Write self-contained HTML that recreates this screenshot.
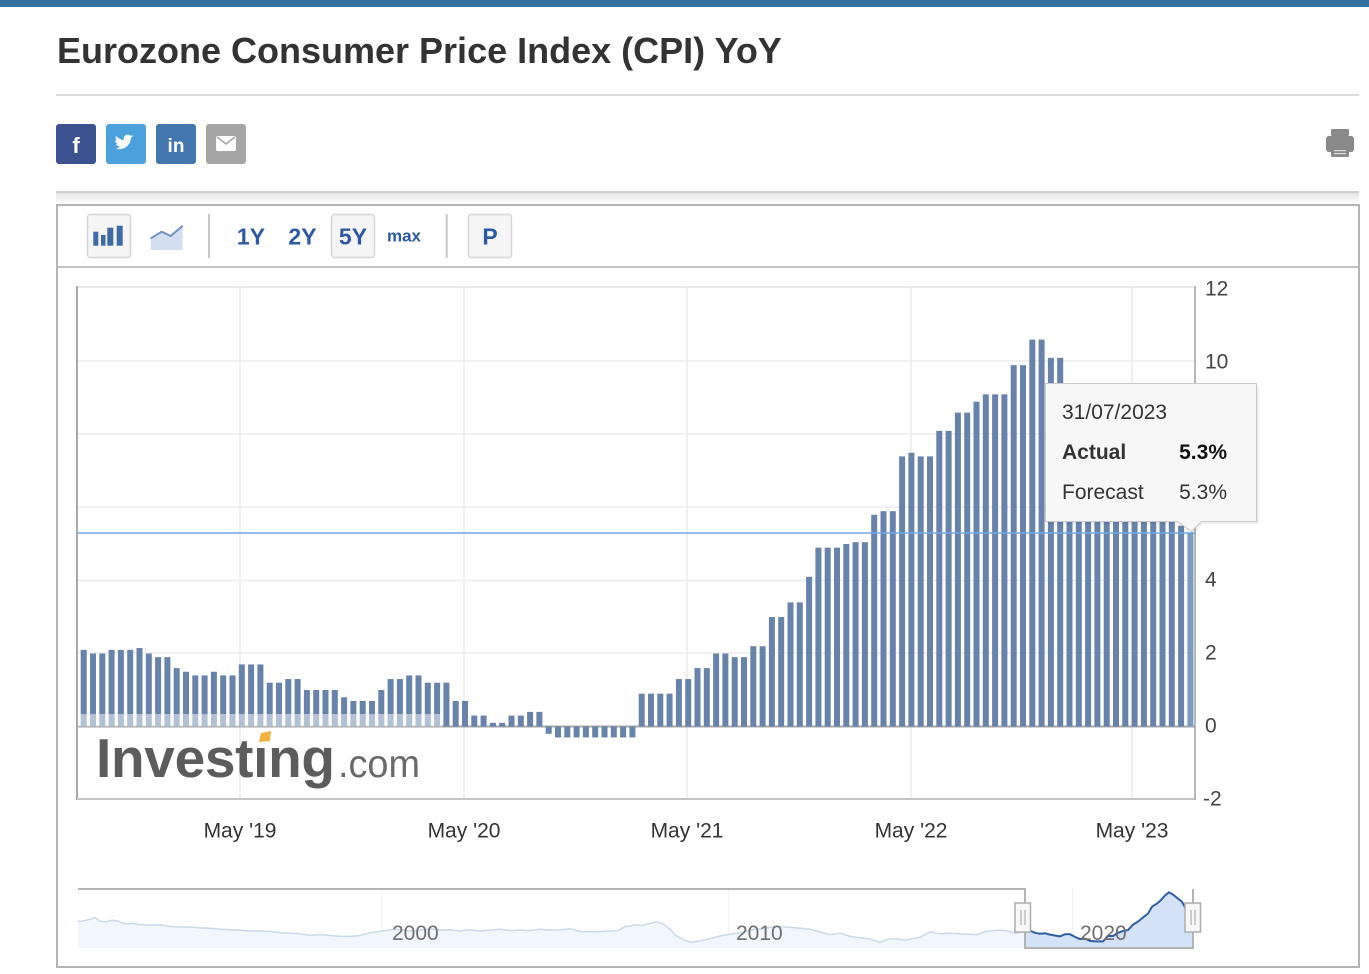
<!DOCTYPE html>
<html>
<head>
<meta charset="utf-8">
<style>
  html,body{margin:0;padding:0;background:#fff;}
  body{width:1369px;height:974px;overflow:hidden;position:relative;}
  svg{position:absolute;left:0;top:0;display:block;}
  text{font-family:"Liberation Sans",Arial,sans-serif;}
</style>
</head>
<body>
<svg width="1369" height="974" viewBox="0 0 1369 974" xmlns="http://www.w3.org/2000/svg">
  <defs>
    <linearGradient id="sh" x1="0" y1="0" x2="0" y2="1">
      <stop offset="0" stop-color="#e4e4e4"/>
      <stop offset="1" stop-color="#ffffff"/>
    </linearGradient>
  </defs>

  <rect x="0" y="0" width="1369" height="7" fill="#34739f"/>

  <text x="57" y="63" font-size="36" font-weight="bold" fill="#333">Eurozone Consumer Price Index (CPI) YoY</text>
  <rect x="56" y="94" width="1303" height="2" fill="#dadada"/>

  <rect x="56" y="124" width="40" height="40" rx="3" fill="#3b5190"/>
  <text x="76" y="153" font-size="22" font-weight="bold" fill="#fff" text-anchor="middle">f</text>
  <rect x="106" y="124" width="40" height="40" rx="3" fill="#4ca0db"/>
  <path d="M117,149 c6,1 11,-2 13,-7 l1,-4 c1,-1 2,-2 2,-3 l-2,1 c-1,-1 -3,-2 -5,-1 c-2,1 -3,3 -2,5 c-3,0 -6,-2 -8,-4 c-1,2 0,4 1,5 c-1,0 -1,0 -2,-1 c0,2 1,3 3,4 c-1,0 -1,0 -2,0 c1,2 2,2 4,3 c-2,1 -3,2 -6,2z" fill="#fff"/>
  <rect x="156" y="124" width="40" height="40" rx="3" fill="#4477ad"/>
  <text x="176" y="152" font-size="19" font-weight="bold" fill="#fff" text-anchor="middle">in</text>
  <rect x="206" y="124" width="40" height="40" rx="3" fill="#a6a6a6"/>
  <rect x="216" y="136" width="20" height="15" rx="2" fill="#fff"/>
  <path d="M217,137 L226,144 L235,137" stroke="#a6a6a6" stroke-width="1.5" fill="none"/>

  <g fill="#8a8a8a">
    <rect x="1331" y="129" width="18" height="7" rx="1"/>
    <rect x="1326" y="136" width="28" height="16" rx="3"/>
    <rect x="1331" y="147" width="18" height="10" rx="1"/>
  </g>
  <rect x="1334" y="150" width="12" height="1.2" fill="#ddd"/>
  <rect x="1334" y="153" width="12" height="1.2" fill="#ddd"/>

  <rect x="56" y="193" width="1303" height="11" fill="url(#sh)"/>
  <rect x="56" y="191" width="1303" height="2" fill="#cfcfcf"/>

  <rect x="57" y="205" width="1302" height="762" fill="#fff" stroke="#b3b3b3" stroke-width="2"/>
  <rect x="58" y="266" width="1300" height="2" fill="#c2c2c2"/>

  <rect x="87.5" y="214.5" width="43" height="43" rx="3" fill="#f5f5f5" stroke="#d5d5d5" stroke-width="1.5"/>
  <g fill="#3e6aa8">
    <rect x="93.3" y="231.7" width="5" height="14"/>
    <rect x="101" y="235" width="4.5" height="10.7"/>
    <rect x="107.3" y="227.7" width="6" height="18"/>
    <rect x="116.7" y="225.7" width="6" height="20"/>
  </g>
  <path d="M150.7,238.3 L161.7,231.7 L170.7,236 L182.7,225.7 L182.7,250 L150.7,250 Z" fill="#d3deee"/>
  <path d="M150.7,238.3 L161.7,231.7 L170.7,236 L182.7,225.7" fill="none" stroke="#6d90c2" stroke-width="2"/>
  <rect x="208" y="214" width="2" height="44" fill="#c8c8c8"/>
  <text x="251" y="244.3" font-size="23" font-weight="bold" fill="#2b5aa2" text-anchor="middle">1Y</text>
  <text x="302.5" y="244.3" font-size="23" font-weight="bold" fill="#2b5aa2" text-anchor="middle">2Y</text>
  <rect x="331.5" y="214.5" width="43" height="43" rx="3" fill="#f5f5f5" stroke="#d5d5d5" stroke-width="1.5"/>
  <text x="353" y="244.3" font-size="23" font-weight="bold" fill="#2b5aa2" text-anchor="middle">5Y</text>
  <text x="404" y="241.7" font-size="17" font-weight="bold" fill="#2b5aa2" text-anchor="middle">max</text>
  <rect x="445.7" y="214" width="2" height="44" fill="#c8c8c8"/>
  <rect x="468.5" y="214.5" width="43" height="43" rx="3" fill="#f5f5f5" stroke="#d5d5d5" stroke-width="1.5"/>
  <text x="490" y="244.3" font-size="23" font-weight="bold" fill="#2b5aa2" text-anchor="middle">P</text>

  <g stroke="#ebebeb" stroke-width="1.5">
    <line x1="240" y1="287" x2="240" y2="799"/>
    <line x1="464" y1="287" x2="464" y2="799"/>
    <line x1="687" y1="287" x2="687" y2="799"/>
    <line x1="911" y1="287" x2="911" y2="799"/>
    <line x1="1132" y1="287" x2="1132" y2="799"/>
    <line x1="77" y1="361" x2="1195" y2="361"/>
    <line x1="77" y1="434" x2="1195" y2="434"/>
    <line x1="77" y1="507" x2="1195" y2="507"/>
    <line x1="77" y1="580.5" x2="1195" y2="580.5"/>
    <line x1="77" y1="653" x2="1195" y2="653"/>
  </g>
  <line x1="77" y1="287" x2="1195" y2="287" stroke="#e2e2e2" stroke-width="1.5"/>
  <line x1="77" y1="726.5" x2="1195" y2="726.5" stroke="#a6a6a6" stroke-width="2"/>

  <g transform="translate(0 726.5) scale(1 -36.5)" fill="#6783ab">
    <rect x="80.7" y="0" width="6" height="2.1"/>
    <rect x="90" y="0" width="6" height="2"/>
    <rect x="99.3" y="0" width="6" height="2"/>
    <rect x="108.6" y="0" width="6" height="2.1"/>
    <rect x="117.9" y="0" width="6" height="2.1"/>
    <rect x="127.2" y="0" width="6" height="2.1"/>
    <rect x="136.5" y="0" width="6" height="2.15"/>
    <rect x="145.8" y="0" width="6" height="2"/>
    <rect x="155.1" y="0" width="6" height="1.9"/>
    <rect x="164.4" y="0" width="6" height="1.9"/>
    <rect x="173.7" y="0" width="6" height="1.6"/>
    <rect x="183" y="0" width="6" height="1.5"/>
    <rect x="192.3" y="0" width="6" height="1.4"/>
    <rect x="201.6" y="0" width="6" height="1.4"/>
    <rect x="210.9" y="0" width="6" height="1.5"/>
    <rect x="220.2" y="0" width="6" height="1.4"/>
    <rect x="229.5" y="0" width="6" height="1.4"/>
    <rect x="238.8" y="0" width="6" height="1.7"/>
    <rect x="248.1" y="0" width="6" height="1.7"/>
    <rect x="257.4" y="0" width="6" height="1.7"/>
    <rect x="266.7" y="0" width="6" height="1.2"/>
    <rect x="276" y="0" width="6" height="1.2"/>
    <rect x="285.3" y="0" width="6" height="1.3"/>
    <rect x="294.6" y="0" width="6" height="1.3"/>
    <rect x="303.9" y="0" width="6" height="1"/>
    <rect x="313.2" y="0" width="6" height="1"/>
    <rect x="322.5" y="0" width="6" height="1"/>
    <rect x="331.8" y="0" width="6" height="1"/>
    <rect x="341.1" y="0" width="6" height="0.8"/>
    <rect x="350.4" y="0" width="6" height="0.7"/>
    <rect x="359.7" y="0" width="6" height="0.7"/>
    <rect x="369" y="0" width="6" height="0.7"/>
    <rect x="378.3" y="0" width="6" height="1"/>
    <rect x="387.6" y="0" width="6" height="1.3"/>
    <rect x="396.9" y="0" width="6" height="1.3"/>
    <rect x="406.2" y="0" width="6" height="1.4"/>
    <rect x="415.5" y="0" width="6" height="1.4"/>
    <rect x="424.8" y="0" width="6" height="1.2"/>
    <rect x="434.1" y="0" width="6" height="1.2"/>
    <rect x="443.4" y="0" width="6" height="1.2"/>
    <rect x="452.7" y="0" width="6" height="0.7"/>
    <rect x="462" y="0" width="6" height="0.7"/>
    <rect x="471.3" y="0" width="6" height="0.3"/>
    <rect x="480.6" y="0" width="6" height="0.3"/>
    <rect x="489.9" y="0" width="6" height="0.1"/>
    <rect x="499.2" y="0" width="6" height="0.1"/>
    <rect x="508.5" y="0" width="6" height="0.3"/>
    <rect x="517.8" y="0" width="6" height="0.3"/>
    <rect x="527.1" y="0" width="6" height="0.4"/>
    <rect x="536.4" y="0" width="6" height="0.4"/>
    <rect x="545.7" y="-0.2" width="6" height="0.2"/>
    <rect x="555" y="-0.3" width="6" height="0.3"/>
    <rect x="564.3" y="-0.3" width="6" height="0.3"/>
    <rect x="573.6" y="-0.3" width="6" height="0.3"/>
    <rect x="582.9" y="-0.3" width="6" height="0.3"/>
    <rect x="592.2" y="-0.3" width="6" height="0.3"/>
    <rect x="601.5" y="-0.3" width="6" height="0.3"/>
    <rect x="610.8" y="-0.3" width="6" height="0.3"/>
    <rect x="620.1" y="-0.3" width="6" height="0.3"/>
    <rect x="629.4" y="-0.3" width="6" height="0.3"/>
    <rect x="638.7" y="0" width="6" height="0.9"/>
    <rect x="648" y="0" width="6" height="0.9"/>
    <rect x="657.3" y="0" width="6" height="0.9"/>
    <rect x="666.6" y="0" width="6" height="0.9"/>
    <rect x="675.9" y="0" width="6" height="1.3"/>
    <rect x="685.2" y="0" width="6" height="1.3"/>
    <rect x="694.5" y="0" width="6" height="1.6"/>
    <rect x="703.8" y="0" width="6" height="1.6"/>
    <rect x="713.1" y="0" width="6" height="2"/>
    <rect x="722.4" y="0" width="6" height="2"/>
    <rect x="731.7" y="0" width="6" height="1.9"/>
    <rect x="741" y="0" width="6" height="1.9"/>
    <rect x="750.3" y="0" width="6" height="2.2"/>
    <rect x="759.6" y="0" width="6" height="2.2"/>
    <rect x="768.9" y="0" width="6" height="3"/>
    <rect x="778.2" y="0" width="6" height="3"/>
    <rect x="787.5" y="0" width="6" height="3.4"/>
    <rect x="796.8" y="0" width="6" height="3.4"/>
    <rect x="806.1" y="0" width="6" height="4.1"/>
    <rect x="815.4" y="0" width="6" height="4.9"/>
    <rect x="824.7" y="0" width="6" height="4.9"/>
    <rect x="834" y="0" width="6" height="4.9"/>
    <rect x="843.3" y="0" width="6" height="5"/>
    <rect x="852.6" y="0" width="6" height="5.05"/>
    <rect x="861.9" y="0" width="6" height="5.05"/>
    <rect x="871.2" y="0" width="6" height="5.8"/>
    <rect x="880.5" y="0" width="6" height="5.9"/>
    <rect x="889.8" y="0" width="6" height="5.9"/>
    <rect x="899.1" y="0" width="6" height="7.4"/>
    <rect x="908.4" y="0" width="6" height="7.5"/>
    <rect x="917.7" y="0" width="6" height="7.4"/>
    <rect x="927" y="0" width="6" height="7.4"/>
    <rect x="936.3" y="0" width="6" height="8.1"/>
    <rect x="945.6" y="0" width="6" height="8.1"/>
    <rect x="954.9" y="0" width="6" height="8.6"/>
    <rect x="964.2" y="0" width="6" height="8.6"/>
    <rect x="973.5" y="0" width="6" height="8.9"/>
    <rect x="982.8" y="0" width="6" height="9.1"/>
    <rect x="992.1" y="0" width="6" height="9.1"/>
    <rect x="1001.4" y="0" width="6" height="9.1"/>
    <rect x="1010.7" y="0" width="6" height="9.9"/>
    <rect x="1020" y="0" width="6" height="9.9"/>
    <rect x="1029.3" y="0" width="6" height="10.6"/>
    <rect x="1038.6" y="0" width="6" height="10.6"/>
    <rect x="1047.9" y="0" width="6" height="10.1"/>
    <rect x="1057.2" y="0" width="6" height="10.1"/>
    <rect x="1066.5" y="0" width="6" height="9.2"/>
    <rect x="1075.8" y="0" width="6" height="9.2"/>
    <rect x="1085.1" y="0" width="6" height="8.6"/>
    <rect x="1094.4" y="0" width="6" height="8.6"/>
    <rect x="1103.7" y="0" width="6" height="8.5"/>
    <rect x="1113" y="0" width="6" height="8.5"/>
    <rect x="1122.3" y="0" width="6" height="6.9"/>
    <rect x="1131.6" y="0" width="6" height="6.9"/>
    <rect x="1140.9" y="0" width="6" height="7"/>
    <rect x="1150.2" y="0" width="6" height="7"/>
    <rect x="1159.5" y="0" width="6" height="6.1"/>
    <rect x="1168.8" y="0" width="6" height="6.1"/>
    <rect x="1178.1" y="0" width="6" height="5.5"/>
    <rect x="1187.4" y="0" width="6" height="5.3" fill="#7f9bc4"/>
  </g>

  <rect x="78" y="714" width="364" height="12.5" fill="#fff" fill-opacity="0.5"/>

  <text x="96" y="777" font-size="55" font-weight="bold" fill="#5c5c5c" letter-spacing="-0.3">Invest&#305;ng</text>
  <polygon points="261,733 271,731 270,741 259,742" fill="#f2b13f"/>
  <text x="338" y="777" font-size="39" fill="#6a6a6a" textLength="82" lengthAdjust="spacingAndGlyphs">.com</text>

  <line x1="77" y1="286" x2="77" y2="800" stroke="#a9a9a9" stroke-width="2"/>
  <line x1="77" y1="799" x2="1195" y2="799" stroke="#c3c3c3" stroke-width="2"/>
  <line x1="1195" y1="286" x2="1195" y2="800" stroke="#a0a0a0" stroke-width="1.5"/>

  <line x1="78" y1="533" x2="1195" y2="533" stroke="#6ea8e6" stroke-width="1.5"/>

  <g font-size="21" fill="#444">
    <text x="1205" y="295.5">12</text>
    <text x="1205" y="368.5">10</text>
    <text x="1205" y="586.5">4</text>
    <text x="1205" y="659.5">2</text>
    <text x="1205" y="732.5">0</text>
    <text x="1203" y="805.5">-2</text>
  </g>

  <g font-size="21" fill="#333" text-anchor="middle">
    <text x="240" y="837.5">May '19</text>
    <text x="464" y="837.5">May '20</text>
    <text x="687" y="837.5">May '21</text>
    <text x="911" y="837.5">May '22</text>
    <text x="1132" y="837.5">May '23</text>
  </g>

  <path d="M1047,386 H1259 V524 H1203 L1193,534 L1179,524 H1047 Z" fill="#000" fill-opacity="0.06"/>
  <path d="M1045.5,383.5 H1256.5 V521.5 H1201.5 L1191.5,531.5 L1177.5,521.5 H1045.5 Z" fill="#f7f7f7" stroke="#c8c8c8" stroke-width="1"/>
  <text x="1062" y="419" font-size="21" fill="#333">31/07/2023</text>
  <text x="1062" y="459" font-size="21" font-weight="bold" fill="#333">Actual</text>
  <text x="1227" y="459" font-size="21" font-weight="bold" fill="#111" text-anchor="end">5.3%</text>
  <text x="1062" y="499" font-size="21" fill="#333">Forecast</text>
  <text x="1227" y="499" font-size="21" fill="#333" text-anchor="end">5.3%</text>

  <g stroke="#efefef" stroke-width="1">
    <line x1="382" y1="889" x2="382" y2="948"/>
    <line x1="729" y1="889" x2="729" y2="948"/>
    <line x1="1072.5" y1="889" x2="1072.5" y2="948"/>
  </g>
  <polygon fill="#f2f7fd" points="78,921.6 84,920.7 90,919.3 95,917.5 100,921.1 106,922 112,920.2 118,921.1 124,923.8 132,923.4 140,924.7 150,925.2 160,924.7 170,926.5 180,927 190,927 200,927.9 210,928.3 220,929.2 230,929.7 240,930.1 250,931 260,931 270,931.5 280,932.8 290,933.3 300,933.7 310,935.5 320,934.6 330,935.5 340,936.4 350,936.4 360,935.5 370,932.8 382,931 395,929.2 410,931 420,930.1 430,928.8 440,930.1 450,929.7 460,931 470,929.7 480,931 490,930.1 500,929.2 510,930.6 520,930.1 530,930.6 540,929.2 550,930.1 560,929.7 570,928.8 580,931.5 590,931.9 600,931.5 610,931 618,930.6 625,926.5 630,926 636,924.7 642,925.6 650,923.4 657,922 663,923.8 670,929.2 676,935.5 684,940 692,942.3 700,940.9 710,938.7 720,936 730,934.2 740,932.8 750,930.1 760,928.8 770,927.4 780,926.5 790,927.4 800,928.3 810,929.2 820,931.9 830,934.6 840,933.3 850,936.4 860,937.8 870,939.1 880,942.3 888,939.1 896,938.7 905,940.5 912,938.7 920,937.3 930,931.9 940,933.7 950,933.3 960,933.7 970,934.2 978,934.6 985,931.5 992,930.6 1000,930.1 1008,931 1016,933.3 1025,931 1025,948 78,948"/>
  <polyline fill="none" stroke="#cbd9ea" stroke-width="1.5" points="78,921.6 84,920.7 90,919.3 95,917.5 100,921.1 106,922 112,920.2 118,921.1 124,923.8 132,923.4 140,924.7 150,925.2 160,924.7 170,926.5 180,927 190,927 200,927.9 210,928.3 220,929.2 230,929.7 240,930.1 250,931 260,931 270,931.5 280,932.8 290,933.3 300,933.7 310,935.5 320,934.6 330,935.5 340,936.4 350,936.4 360,935.5 370,932.8 382,931 395,929.2 410,931 420,930.1 430,928.8 440,930.1 450,929.7 460,931 470,929.7 480,931 490,930.1 500,929.2 510,930.6 520,930.1 530,930.6 540,929.2 550,930.1 560,929.7 570,928.8 580,931.5 590,931.9 600,931.5 610,931 618,930.6 625,926.5 630,926 636,924.7 642,925.6 650,923.4 657,922 663,923.8 670,929.2 676,935.5 684,940 692,942.3 700,940.9 710,938.7 720,936 730,934.2 740,932.8 750,930.1 760,928.8 770,927.4 780,926.5 790,927.4 800,928.3 810,929.2 820,931.9 830,934.6 840,933.3 850,936.4 860,937.8 870,939.1 880,942.3 888,939.1 896,938.7 905,940.5 912,938.7 920,937.3 930,931.9 940,933.7 950,933.3 960,933.7 970,934.2 978,934.6 985,931.5 992,930.6 1000,930.1 1008,931 1016,933.3 1025,931"/>
  <polygon fill="#d4e2f7" points="1025,931 1030,930.6 1035,932.8 1040,933.7 1045,933.3 1050,934.6 1055,935.5 1060,936.4 1065,934.2 1070,934.2 1075,936.9 1080,939.1 1085,938.7 1090,940.9 1095,941.4 1103,941.4 1108,936 1113,936 1118,932.8 1123,931 1128,930.1 1133,924.7 1138,921.6 1143,917.5 1148,913.5 1152,906.7 1157,903.6 1161,900 1165,895.5 1169,892.3 1173,894.6 1178,898.6 1182,901.8 1186,909 1189,912.6 1191,915.3 1193,916.2 1193,948 1025,948"/>
  <polyline fill="none" stroke="#2d5ea5" stroke-width="2" points="1025,931 1030,930.6 1035,932.8 1040,933.7 1045,933.3 1050,934.6 1055,935.5 1060,936.4 1065,934.2 1070,934.2 1075,936.9 1080,939.1 1085,938.7 1090,940.9 1095,941.4 1103,941.4 1108,936 1113,936 1118,932.8 1123,931 1128,930.1 1133,924.7 1138,921.6 1143,917.5 1148,913.5 1152,906.7 1157,903.6 1161,900 1165,895.5 1169,892.3 1173,894.6 1178,898.6 1182,901.8 1186,909 1189,912.6 1191,915.3 1193,916.2"/>

  <g font-size="21" fill="#6e6e6e">
    <text x="392" y="940">2000</text>
    <text x="736" y="940">2010</text>
    <text x="1080" y="940">2020</text>
  </g>

  <path d="M78,889 H1025 V948 H1193 V889" fill="none" stroke="#b3b3b3" stroke-width="2"/>

  <rect x="1015" y="903" width="15.5" height="29" fill="#f7f7f7" stroke="#adadad" stroke-width="1.5"/>
  <line x1="1021" y1="910" x2="1021" y2="925" stroke="#a0a0a0" stroke-width="1"/>
  <line x1="1025" y1="910" x2="1025" y2="925" stroke="#a0a0a0" stroke-width="1"/>
  <rect x="1185" y="903" width="15.5" height="29" fill="#f7f7f7" stroke="#adadad" stroke-width="1.5"/>
  <line x1="1191" y1="910" x2="1191" y2="925" stroke="#a0a0a0" stroke-width="1"/>
  <line x1="1195" y1="910" x2="1195" y2="925" stroke="#a0a0a0" stroke-width="1"/>
</svg>
</body>
</html>
